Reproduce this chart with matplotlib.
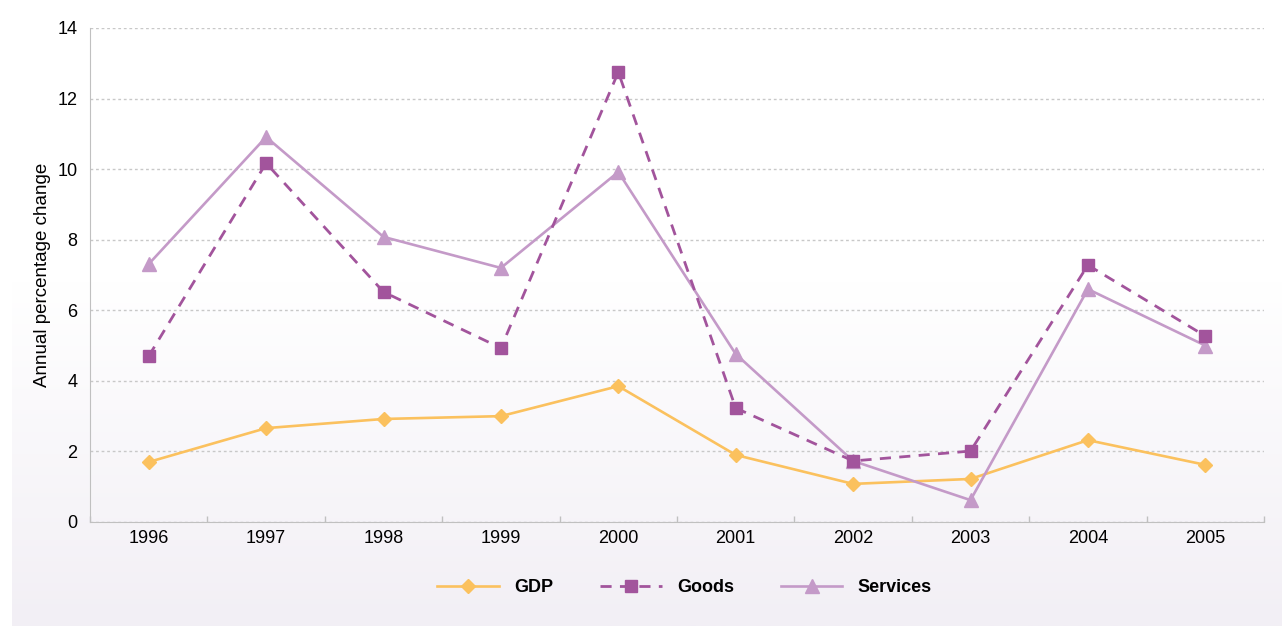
import numpy as np
import matplotlib
matplotlib.use("Agg")
import matplotlib.pyplot as plt
from matplotlib.colors import LinearSegmentedColormap

plt.rcParams["font.family"] = ["Liberation Sans", "DejaVu Sans"]

years = ["1996", "1997", "1998", "1999", "2000", "2001", "2002", "2003", "2004", "2005"]
gdp = [1.70, 2.66, 2.92, 3.00, 3.85, 1.90, 1.08, 1.22, 2.32, 1.62]
goods = [4.70, 10.17, 6.52, 4.93, 12.75, 3.23, 1.73, 2.01, 7.28, 5.27]
services = [7.31, 10.91, 8.08, 7.20, 9.92, 4.76, 1.73, 0.62, 6.60, 5.00]

gdp_color = "#fbc15e"
goods_color = "#a2549c"
services_color = "#c49ac8"

fig = plt.figure(figsize=(12.82, 6.26), dpi=100)

# 背景渐变面板
bg = fig.add_axes([12 / 1282, 0, 1 - 12 / 1282, 0.55], zorder=-10)
cmap = LinearSegmentedColormap.from_list("bg", ["#f2eff5", "#ffffff"])
bg.imshow(np.linspace(0, 1, 256).reshape(-1, 1), aspect="auto", cmap=cmap, origin="lower")
bg.axis("off")

ax = fig.add_axes([90 / 1282, 1 - 522 / 626, (1264 - 90) / 1282, (522 - 28) / 626])
ax.patch.set_alpha(0)

x = np.arange(len(years))
ax.plot(x, gdp, color=gdp_color, linewidth=1.9, marker="D", markersize=7, label="GDP", zorder=3)
ax.plot(x, goods, color=goods_color, linewidth=2.0, linestyle=(0, (4, 3)), marker="s", markersize=8,
        label="Goods", zorder=4)
ax.plot(x, services, color=services_color, linewidth=1.9, marker="^", markersize=10,
        label="Services", zorder=3)

ax.set_xlim(-0.5, len(years) - 0.5)
ax.set_ylim(0, 14)
ax.set_yticks(range(0, 15, 2))
ax.set_xticks(x)
ax.set_xticklabels(years)
ax.set_xticks(np.arange(-0.5, len(years), 1), minor=True)
ax.tick_params(axis="x", which="major", length=0, pad=6, labelsize=13)
ax.tick_params(axis="x", which="minor", direction="in", length=4.5, color="#c0c0c0", width=1)
ax.tick_params(axis="y", length=0, pad=9, labelsize=13)

ax.grid(axis="y", color="#c8c8c8", linestyle=(0, (2, 2)), linewidth=1)
ax.set_axisbelow(True)
for side in ["top", "right"]:
    ax.spines[side].set_visible(False)
ax.spines["left"].set_color("#c0c0c0")
ax.spines["bottom"].set_color("#c0c0c0")

ax.set_ylabel("Annual percentage change", fontsize=13.5)
ax.yaxis.set_label_coords(-39 / 1174, 0.5)

fig.legend(loc="center", bbox_to_anchor=(0.534, 1 - 588 / 626), ncol=3, frameon=False,
           handlelength=3.4, handletextpad=0.85, columnspacing=2.6,
           prop={"weight": "bold", "size": 13})

fig.savefig("out.png", dpi=100)
